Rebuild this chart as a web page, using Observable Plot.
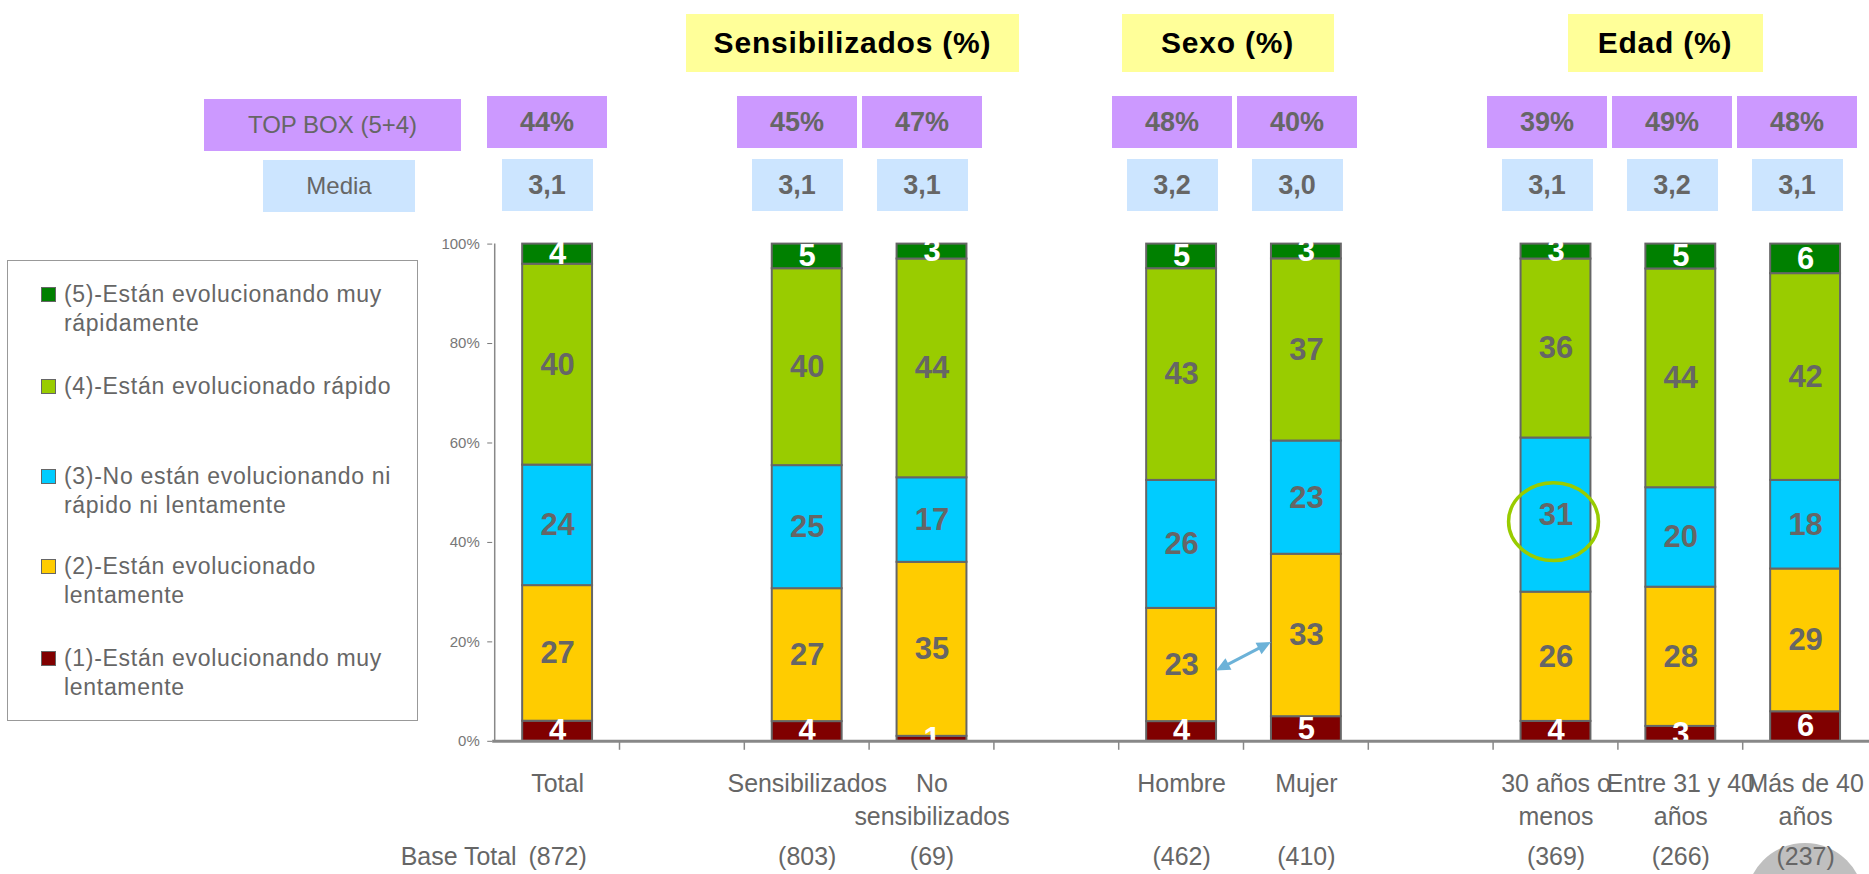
<!DOCTYPE html>
<html>
<head>
<meta charset="utf-8">
<script src="https://cdn.jsdelivr.net/npm/d3@7"></script>
<script src="https://cdn.jsdelivr.net/npm/@observablehq/plot@0.6"></script>
<style>
  html, body { margin: 0; padding: 0; background: #fff; overflow: hidden; }
  #wrap { position: relative; width: 1869px; height: 874px; overflow: hidden;
          font-family: "Liberation Sans", Arial, sans-serif; color: #666; }
  #chart { position: absolute; left: 0; top: 0; z-index: 1; }
  #deco { position: absolute; left: 1746px; top: 843px; width: 118px; height: 118px;
          border-radius: 50%; background: #bfbfbf; z-index: 0; }
  .box { position: absolute; display: flex; align-items: center; justify-content: center;
         white-space: nowrap; z-index: 2; }
  .title { background: #FFFF99; color: #000; font-weight: bold; font-size: 30px; letter-spacing: 0.8px; }
  .tb { background: #CC99FF; color: #666; font-weight: bold; font-size: 27px; }
  .md { background: #CCE5FF; color: #666; font-weight: bold; font-size: 27px; }
  .lab { font-weight: normal; font-size: 24px; }
  #legend { position: absolute; left: 7px; top: 260px; width: 409px; height: 459px;
            border: 1.5px solid #999; background: #fff; z-index: 2; }
  .li { position: absolute; left: 33px; font-size: 23px; line-height: 28.5px; color: #666;
        letter-spacing: 0.7px; white-space: nowrap; }
  .li .sw { position: absolute; left: 0; top: 7px; width: 13px; height: 13px; border: 1.5px solid #666; }
  .li .tx { position: absolute; left: 23px; top: 0; }
</style>
</head>
<body>
<div id="wrap">
  <div id="deco"></div>
  <div id="chart"></div>
  <div id="legend"></div>
</div>
<script>
// ---------------- data ----------------
const categories = ["Total", "_a", "Sensibilizados", "No sensibilizados", "_b", "Hombre", "Mujer", "_c",
                    "30 años o menos", "Entre 31 y 40 años", "Más de 40 años"];
const tickLabels = ["Total", "", "Sensibilizados", "No\nsensibilizados", "", "Hombre", "Mujer", "",
                    "30 años o\nmenos", "Entre 31 y 40\naños", "Más de 40\naños"];
const groups = ["Total", "Sensibilizados", "No sensibilizados", "Hombre", "Mujer",
                "30 años o menos", "Entre 31 y 40 años", "Más de 40 años"];
const muyLentamente = [4, 4, 1, 4, 5, 4, 3, 6];
const lentamente    = [27, 27, 35, 23, 33, 26, 28, 29];
const niNi          = [24, 25, 17, 26, 23, 31, 20, 18];
const rapido        = [40, 40, 44, 43, 37, 36, 44, 42];
const muyRapido     = [4, 5, 3, 5, 3, 3, 5, 6];
const topBox = ["44%", "45%", "47%", "48%", "40%", "39%", "49%", "48%"];
const media  = ["3,1", "3,1", "3,1", "3,2", "3,0", "3,1", "3,2", "3,1"];
const bases  = ["(872)", "(803)", "(69)", "(462)", "(410)", "(369)", "(266)", "(237)"];
const sectionTitles = ["Sensibilizados (%)", "Sexo (%)", "Edad (%)"];
const sectionMembers = [["Sensibilizados", "No sensibilizados"], ["Hombre", "Mujer"],
                        ["30 años o menos", "Entre 31 y 40 años", "Más de 40 años"]];
const legendLabels = ["(5)-Están evolucionando muy<br>rápidamente", "(4)-Están evolucionado rápido",
                      "(3)-No están evolucionando ni<br>rápido ni lentamente", "(2)-Están evolucionado<br>lentamente",
                      "(1)-Están evolucionando muy<br>lentamente"];

// ---------------- styles ----------------
const levelSeries = [muyLentamente, lentamente, niNi, rapido, muyRapido];
const levelColors = ["#800000", "#FFCC00", "#00CCFF", "#99CC00", "#008000"];
const labelColors = ["#ffffff", "#666666", "#666666", "#666666", "#ffffff"];

const rows = [];
groups.forEach((g, i) => levelSeries.forEach((s, k) => rows.push({cat: g, level: k, value: s[i]})));

const FONT = "Liberation Sans, Arial, sans-serif";
const stackOpts = {offset: "normalize"};

const plot = Plot.plot({
  width: 1872, height: 874,
  marginLeft: 493, marginRight: 0, marginTop: 244, marginBottom: 132,
  style: {fontFamily: FONT, background: "transparent", overflow: "visible"},
  x: {domain: categories, paddingInner: 0.44, paddingOuter: 0.22, axis: null},
  y: {domain: [0, 1], axis: null},
  color: {type: "identity"},
  marks: [
    Plot.barY(rows, Plot.stackY(stackOpts, {
      x: "cat", y: "value", z: "level",
      fill: d => levelColors[d.level], stroke: "#666", strokeWidth: 2
    })),
    Plot.text(rows, Plot.stackY(stackOpts, {
      x: "cat", y: "value", z: "level", text: d => String(d.value),
      fill: d => labelColors[d.level], fontSize: 31, fontWeight: "bold"
    })),
    Plot.ruleY([0], {stroke: "#888", strokeWidth: 3}),
    Plot.axisY({ticks: [0, 0.2, 0.4, 0.6, 0.8, 1], tickFormat: d => Math.round(d * 100) + "%",
                tickSize: 5, tickPadding: 8, fontSize: 15, color: "#777", label: null}),
    Plot.text(categories.map((c, i) => ({c, t: tickLabels[i]})), {
      x: "c", text: "t", frameAnchor: "bottom", lineAnchor: "top", dy: 27,
      lineHeight: 1.32, fontSize: 25, fill: "#666"
    }),
    Plot.text(groups.map((g, i) => ({g, b: bases[i]})), {
      x: "g", text: "b", frameAnchor: "bottom", lineAnchor: "top", dy: 106, fontSize: 25, fill: "#666"
    }),
    Plot.text([groups[0]], {
      x: d => d, text: () => "Base Total", frameAnchor: "bottom", lineAnchor: "top",
      dy: 106, dx: -41, textAnchor: "end", fontSize: 25, fill: "#666"
    })
  ]
});
document.getElementById("chart").appendChild(plot);

// ---------------- annotations drawn with the plot's scales ----------------
const sx = plot.scale("x"), sy = plot.scale("y");
const bw = sx.bandwidth;
const step = sx.step || bw / (1 - 0.44);
const cx = c => sx.apply(c) + bw / 2;
const svg = d3.select(plot);
const g = svg.append("g");

// y axis line
const xLeft = cx(categories[0]) - step / 2;
g.append("line").attr("x1", xLeft).attr("x2", xLeft).attr("y1", sy.apply(1)).attr("y2", sy.apply(0))
  .attr("stroke", "#888").attr("stroke-width", 1.5);
// x axis boundary ticks
categories.slice(1).forEach(c => {
  const xb = cx(c) - step / 2;
  g.append("line").attr("x1", xb).attr("x2", xb).attr("y1", sy.apply(0)).attr("y2", sy.apply(0) + 9)
    .attr("stroke", "#888").attr("stroke-width", 1.5);
});

function mid(gi, level) {
  const vals = levelSeries.map(s => s[gi]);
  const tot = d3.sum(vals);
  return (d3.sum(vals.slice(0, level)) + vals[level] / 2) / tot;
}
// green ellipse around 31
g.append("ellipse")
  .attr("cx", cx(groups[5]) - 2).attr("cy", sy.apply(mid(5, 2)) + 7)
  .attr("rx", 45).attr("ry", 39).attr("fill", "none").attr("stroke", "#99CC00").attr("stroke-width", 3.5);

// double arrow between Hombre 23 and Mujer 33
(function () {
  const x1 = sx.apply("Hombre") + bw, y1 = sy.apply(mid(3, 1)) + 6;
  const x2 = sx.apply("Mujer"), y2 = sy.apply(mid(4, 1)) + 7;
  const dx = x2 - x1, dy = y2 - y1, L = Math.hypot(dx, dy);
  const ux = dx / L, uy = dy / L, px = -uy, py = ux;
  const hl = 14, hw = 6.5;
  const col = "#6CB2D8";
  g.append("line").attr("x1", x1 + ux * hl * 0.8).attr("y1", y1 + uy * hl * 0.8)
    .attr("x2", x2 - ux * hl * 0.8).attr("y2", y2 - uy * hl * 0.8)
    .attr("stroke", col).attr("stroke-width", 3);
  const head = (tx, ty, sx_, sy_) => {
    const bx = tx - sx_ * hl, by = ty - sy_ * hl;
    return `${tx},${ty} ${bx + px * hw},${by + py * hw} ${bx - px * hw},${by - py * hw}`;
  };
  g.append("polygon").attr("points", head(x2, y2, ux, uy)).attr("fill", col);
  g.append("polygon").attr("points", head(x1, y1, -ux, -uy)).attr("fill", col);
})();

// ---------------- header boxes (positioned from the x scale) ----------------
const wrap = document.getElementById("wrap");
function addBox(cls, text, left, top, w, h) {
  const d = document.createElement("div");
  d.className = "box " + cls;
  d.textContent = text;
  Object.assign(d.style, {left: left + "px", top: top + "px", width: w + "px", height: h + "px"});
  wrap.appendChild(d);
}
const headerShift = -11;
groups.forEach((gname, i) => {
  const c = cx(gname) + headerShift;
  addBox("tb", topBox[i], c - 60, 96, 120, 52);
  addBox("md", media[i], c - 45.5, 159, 91, 52);
});
addBox("tb lab", "TOP BOX (5+4)", 204, 99, 257, 52);
addBox("md lab", "Media", 263, 160, 152, 52);
const titleWidths = [333, 212, 195];
sectionTitles.forEach((t, i) => {
  const c = d3.mean(sectionMembers[i], cx) - 18;
  addBox("title", t, c - titleWidths[i] / 2, 14, titleWidths[i], 58);
});

// ---------------- legend ----------------
const legend = document.getElementById("legend");
const legendTops = [19, 111, 201, 291, 383];
legendLabels.forEach((lab, i) => {
  const k = 4 - i;
  const it = document.createElement("div");
  it.className = "li";
  it.style.top = legendTops[i] + "px";
  it.innerHTML = `<span class="sw" style="background:${levelColors[k]}"></span><span class="tx">${lab}</span>`;
  legend.appendChild(it);
});
</script>
</body>
</html>
